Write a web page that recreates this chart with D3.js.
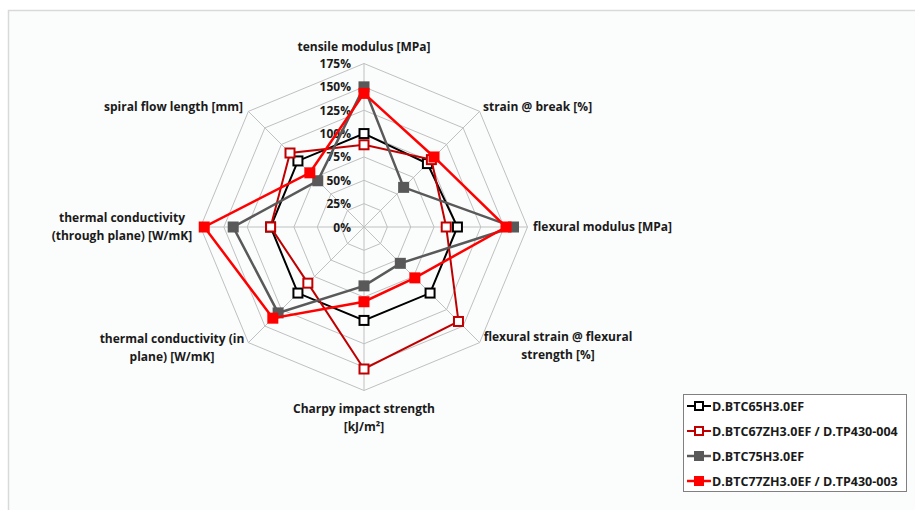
<!DOCTYPE html>
<html><head><meta charset="utf-8">
<script src="https://cdn.jsdelivr.net/npm/d3@7"></script>
<style>body{margin:0;background:#fff}svg{display:block}text{font-family:"Open Sans","Noto Sans",sans-serif;font-weight:700;fill:#1a1a1a}</style>
</head><body><svg id="c" width="915" height="510"></svg>
<script>
const axes = [
  ["tensile modulus [MPa]"],
  ["strain @ break [%]"],
  ["flexural modulus [MPa]"],
  ["flexural strain @ flexural","strength [%]"],
  ["Charpy impact strength","[kJ/m²]"],
  ["thermal conductivity (in","plane) [W/mK]"],
  ["thermal conductivity","(through plane) [W/mK]"],
  ["spiral flow length [mm]"]
];
const ticks = [0,25,50,75,100,125,150,175];
const seriesNames = ["D.BTC65H3.0EF","D.BTC67ZH3.0EF / D.TP430-004","D.BTC75H3.0EF","D.BTC77ZH3.0EF / D.TP430-003"];
const s1 = [100,96,100,100,100,100,100,100];
const s2 = [88,102,88,143,152,85,100,112];
const s3 = [150,60,160,55,63,130,140,70];
const s4 = [143,106,152,77,80,138,171,82];
const values = [s1,s2,s3,s4];

const styles = [
  {stroke:"#000000", fill:"#ffffff", w:2},
  {stroke:"#c00000", fill:"#ffffff", w:2},
  {stroke:"#595959", fill:"#595959", w:2.5},
  {stroke:"#ff0000", fill:"#ff0000", w:2.5}
];

const svg = d3.select("#c");
svg.append("rect").attr("x",8.5).attr("y",10.5).attr("width",915).attr("height",510)
  .attr("fill","#fbfcfc").attr("stroke","#d9d9d9").attr("stroke-width",1.5);

const cx = 364, cy = 227;
const r = d3.scaleLinear().domain([0,175]).range([0,163.5]);
const ang = i => i*Math.PI/4;
const pt = (i,v) => [cx + r(v)*Math.sin(ang(i)), cy - r(v)*Math.cos(ang(i))];

const g = svg.append("g");
ticks.slice(1).forEach(t=>{
  g.append("path").attr("d", d3.line()(d3.range(8).map(i=>pt(i,t)))+"Z")
   .attr("fill","none").attr("stroke","#c0c0c0").attr("stroke-width",1);
});
d3.range(8).forEach(i=>{
  const p = pt(i,175);
  g.append("line").attr("x1",cx).attr("y1",cy).attr("x2",p[0]).attr("y2",p[1])
   .attr("stroke","#c0c0c0").attr("stroke-width",1);
});
ticks.forEach(t=>{
  g.append("text").attr("x",cx-13).attr("y",cy - r(t)+4.5).attr("text-anchor","end")
   .attr("font-size",12).text(t+"%");
});

const labelPos = [
  {x:364,y:51,a:"middle"},
  {x:483,y:111,a:"start"},
  {x:533,y:231,a:"start"},
  {x:558,y:341,a:"middle"},
  {x:364,y:413,a:"middle"},
  {x:172,y:343,a:"middle"},
  {x:122,y:222,a:"middle"},
  {x:243,y:111,a:"end"}
];
axes.forEach((lines,i)=>{
  const t = svg.append("text").attr("x",labelPos[i].x).attr("y",labelPos[i].y)
    .attr("text-anchor",labelPos[i].a).attr("font-size",12);
  lines.forEach((l,k)=>t.append("tspan").attr("x",labelPos[i].x).attr("dy",k?18:0).text(l));
});

const line = d3.line().curve(d3.curveLinearClosed);
values.forEach((vals,si)=>{
  const st = styles[si];
  const pts = vals.map((v,i)=>pt(i,v));
  svg.append("path").attr("d",line(pts)).attr("fill","none")
    .attr("stroke",st.stroke).attr("stroke-width",st.w).attr("stroke-linejoin","miter");
  pts.forEach(p=>{
    svg.append("rect").attr("x",p[0]-4.5).attr("y",p[1]-4.5).attr("width",9).attr("height",9)
      .attr("fill",st.fill).attr("stroke",st.stroke).attr("stroke-width",2);
  });
});

svg.append("rect").attr("x",683.5).attr("y",394.5).attr("width",223).attr("height",97)
  .attr("fill","#fff").attr("stroke","#808080").attr("stroke-width",1);
seriesNames.forEach((n,i)=>{
  const y = 406 + i*25;
  const st = styles[i];
  svg.append("line").attr("x1",687).attr("x2",711).attr("y1",y).attr("y2",y)
    .attr("stroke",st.stroke).attr("stroke-width",st.w);
  svg.append("rect").attr("x",695).attr("y",y-4).attr("width",8).attr("height",8)
    .attr("fill",st.fill).attr("stroke",st.stroke).attr("stroke-width",2);
  svg.append("text").attr("x",712).attr("y",y+4.5).attr("font-size",12.5).text(n);
});
</script></body></html>
